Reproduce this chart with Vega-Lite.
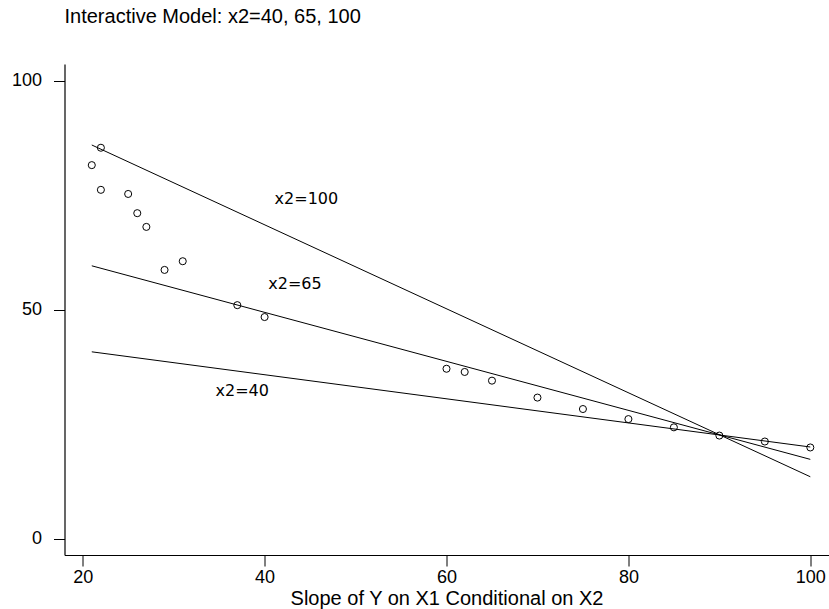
{
  "$schema": "https://vega.github.io/schema/vega-lite/v6.json",
  "autosize": "none",
  "width": 764,
  "height": 491,
  "padding": {"left": 64.5, "top": 64, "right": 0, "bottom": 54},
  "background": "white",
  "config": {
    "view": {"stroke": null},
    "font": "Liberation Sans",
    "axis": {
      "grid": false,
      "domainColor": "black",
      "domainWidth": 1.2,
      "tickColor": "black",
      "tickWidth": 1,
      "tickSize": 11,
      "labelFont": "Liberation Sans",
      "labelFontSize": 18,
      "labelColor": "black",
      "titleFont": "Liberation Sans",
      "titleFontSize": 20,
      "titleFontWeight": "normal",
      "titleColor": "black"
    }
  },
  "title": {
    "text": "Interactive Model: x2=40, 65, 100",
    "anchor": "start",
    "frame": "group",
    "font": "Liberation Sans",
    "fontSize": 20,
    "fontWeight": "normal",
    "color": "black",
    "offset": 37
  },
  "datasets": {
    "points": [
      {"x1": 21, "y": 81.6}, {"x1": 22, "y": 85.4}, {"x1": 22, "y": 76.2},
      {"x1": 25, "y": 75.3}, {"x1": 26, "y": 71.1}, {"x1": 27, "y": 68.1},
      {"x1": 29, "y": 58.7}, {"x1": 31, "y": 60.6}, {"x1": 37, "y": 51.0},
      {"x1": 40, "y": 48.4}, {"x1": 60, "y": 37.1}, {"x1": 62, "y": 36.4},
      {"x1": 65, "y": 34.5}, {"x1": 70, "y": 30.8}, {"x1": 75, "y": 28.3},
      {"x1": 80, "y": 26.1}, {"x1": 85, "y": 24.3}, {"x1": 90, "y": 22.5},
      {"x1": 95, "y": 21.2}, {"x1": 100, "y": 19.9}
    ],
    "lines": [
      {"series": "x2=100", "x1": 21, "y": 86.0}, {"series": "x2=100", "x1": 100, "y": 13.5},
      {"series": "x2=65", "x1": 21, "y": 59.6}, {"series": "x2=65", "x1": 100, "y": 17.3},
      {"series": "x2=40", "x1": 21, "y": 40.8}, {"series": "x2=40", "x1": 100, "y": 20.0}
    ],
    "labels": [
      {"label": "x2=100", "x1": 41.1, "y": 74.2},
      {"label": "x2=65", "x1": 40.4, "y": 55.6},
      {"label": "x2=40", "x1": 34.6, "y": 32.3}
    ]
  },
  "layer": [
    {
      "data": {"name": "lines"},
      "mark": {"type": "line", "color": "black", "strokeWidth": 1},
      "encoding": {
        "x": {
          "field": "x1", "type": "quantitative",
          "scale": {"domain": [18, 102], "nice": false, "zero": false},
          "axis": {"values": [20, 40, 60, 80, 100], "title": "Slope of Y on X1 Conditional on X2", "labelPadding": 2, "titlePadding": 2}
        },
        "y": {
          "field": "y", "type": "quantitative",
          "scale": {"domain": [-3.6, 103.7], "nice": false, "zero": false},
          "axis": {"values": [0, 50, 100], "title": null, "labelPadding": 12}
        },
        "detail": {"field": "series"}
      }
    },
    {
      "data": {"name": "points"},
      "mark": {"type": "point", "shape": "circle", "filled": false, "color": "black", "strokeWidth": 1, "size": 50, "opacity": 1},
      "encoding": {
        "x": {"field": "x1", "type": "quantitative"},
        "y": {"field": "y", "type": "quantitative"}
      }
    },
    {
      "data": {"name": "labels"},
      "mark": {"type": "text", "align": "left", "baseline": "middle", "font": "DejaVu Sans", "fontSize": 16, "color": "black"},
      "encoding": {
        "x": {"field": "x1", "type": "quantitative"},
        "y": {"field": "y", "type": "quantitative"},
        "text": {"field": "label"}
      }
    }
  ]
}
